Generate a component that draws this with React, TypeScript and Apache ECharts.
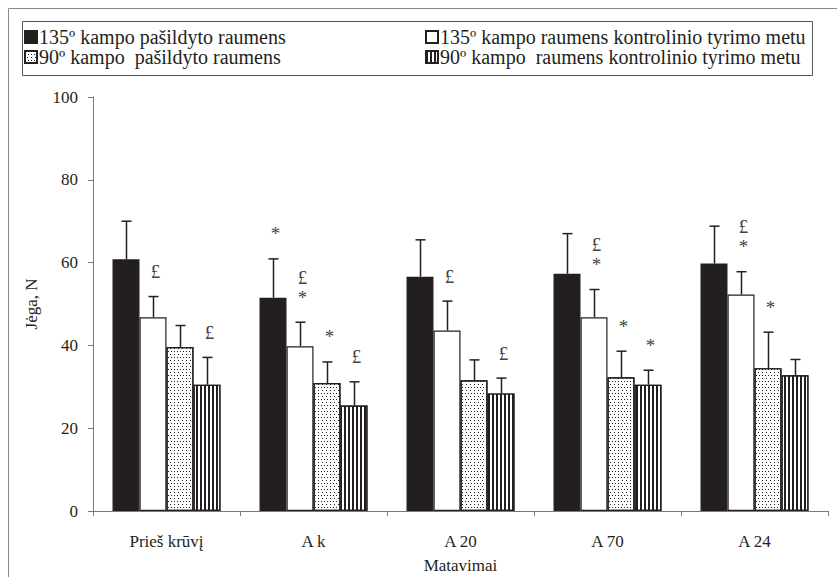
import React, { useEffect, useRef } from "react";
import * as echarts from "echarts";

const categories = ["Prieš krūvį", "A k", "A 20", "A 70", "A 24"];
const seriesNames = [
  "135º kampo pašildyto raumens",
  "135º kampo raumens kontrolinio tyrimo metu",
  "90º kampo  pašildyto raumens",
  "90º kampo  raumens kontrolinio tyrimo metu",
];
const warm135 = [60.8, 51.5, 56.6, 57.3, 59.8];
const ctrl135 = [46.8, 39.8, 43.6, 46.8, 52.3];
const warm90 = [39.6, 30.9, 31.6, 32.3, 34.5];
const ctrl90 = [30.5, 25.5, 28.4, 30.5, 32.8];
const warm135Sd = [9.2, 9.4, 8.9, 9.7, 9.0];
const ctrl135Sd = [5.0, 5.8, 7.1, 6.7, 5.5];
const warm90Sd = [5.2, 5.1, 4.9, 6.3, 8.7];
const ctrl90Sd = [6.6, 5.7, 3.7, 3.5, 3.8];
const warm135Marks = ["", "*", "", "", ""];
const ctrl135Marks = ["£", "£\n*", "£", "£\n*", "£\n*"];
const warm90Marks = ["", "*", "", "*", "*"];
const ctrl90Marks = ["£", "£", "£", "*", ""];
const yTicks = [0, 20, 40, 60, 80, 100];

const INK = "#231f20";
const FONT = "Liberation Serif, Times New Roman, serif";
const BAR_W = 27;

export default function App() {
  const ref = useRef<HTMLDivElement>(null);
  useEffect(() => {
    if (!ref.current) return;
    const chart = echarts.init(ref.current, undefined, { renderer: "svg" });
    const values = [warm135, ctrl135, warm90, ctrl90];
    const sds = [warm135Sd, ctrl135Sd, warm90Sd, ctrl90Sd];
    const marks = [warm135Marks, ctrl135Marks, warm90Marks, ctrl90Marks];
    const errData: number[][] = [];
    const errMarks: string[] = [];
    values.forEach((vals, si) => {
      vals.forEach((v, ci) => {
        errData.push([ci, si, v, v + sds[si][ci]]);
        errMarks.push(marks[si][ci]);
      });
    });
    const decals: any[] = [
      null,
      null,
      {
        symbol: "rect",
        symbolSize: 1,
        dashArrayX: [[1, 2], [0, 1.5, 1, 0.5]],
        dashArrayY: [1, 1.5],
        color: INK,
        backgroundColor: "#ffffff",
        rotation: 0,
      },
      {
        symbol: "rect",
        symbolSize: 1,
        dashArrayX: [2, 1.8],
        dashArrayY: [1, 0],
        color: INK,
        backgroundColor: "#ffffff",
        rotation: 0,
      },
    ];
    const fills = [INK, "#ffffff", "#ffffff", "#ffffff"];
    const barSeries = values.map((vals, si) => ({
      type: "bar",
      name: seriesNames[si],
      data: vals,
      barWidth: BAR_W,
      barGap: "0%",
      itemStyle: {
        color: fills[si],
        borderColor: INK,
        borderWidth: 1.2,
        decal: decals[si] || undefined,
      },
      z: 2,
    }));
    const legendText = {
      fontFamily: FONT,
      fontSize: 20,
      lineHeight: 20,
      color: INK,
      padding: [0, 0, 0, -3],
    };
    const option: any = {
      animation: false,
      textStyle: { fontFamily: FONT },
      graphic: [
        {
          type: "polyline",
          shape: { points: [[8.5, 577], [8.5, 8.5], [837, 8.5]] },
          style: { fill: "none", stroke: "#8a8a8a", lineWidth: 1 },
          silent: true,
        },
        {
          type: "rect",
          shape: { x: 22.5, y: 21.5, width: 790, height: 54 },
          style: { fill: "none", stroke: "#555", lineWidth: 1 },
          silent: true,
        },
      ],
      legend: [
        {
          data: [seriesNames[0], seriesNames[2]],
          orient: "vertical",
          left: 24,
          top: 27,
          padding: 0,
          itemWidth: 12,
          itemHeight: 12,
          itemGap: 0,
          icon: "rect",
          selectedMode: false,
          textStyle: legendText,
        },
        {
          data: [seriesNames[1], seriesNames[3]],
          orient: "vertical",
          left: 425,
          top: 27,
          padding: 0,
          itemWidth: 12,
          itemHeight: 12,
          itemGap: 0,
          icon: "rect",
          selectedMode: false,
          textStyle: legendText,
        },
      ],
      grid: {
        left: 93,
        right: 9,
        top: 97,
        bottom: 66,
        containLabel: false,
        outerBoundsMode: "none",
      },
      xAxis: {
        type: "category",
        data: categories,
        name: "Matavimai",
        nameLocation: "middle",
        nameGap: 46,
        nameTextStyle: { fontFamily: FONT, fontSize: 17, color: INK },
        axisLine: { lineStyle: { color: "#7a7a7a", width: 1 } },
        axisTick: { show: true, length: 5, lineStyle: { color: "#7a7a7a" } },
        axisLabel: { fontFamily: FONT, fontSize: 17, color: INK, margin: 22 },
      },
      yAxis: {
        type: "value",
        min: yTicks[0],
        max: yTicks[yTicks.length - 1],
        interval: 20,
        name: "Jėga, N",
        nameLocation: "middle",
        nameGap: 53,
        nameTextStyle: { fontFamily: FONT, fontSize: 17, color: INK },
        splitLine: { show: false },
        axisLine: { show: true, lineStyle: { color: "#7a7a7a", width: 1 } },
        axisTick: { show: true, length: 5, lineStyle: { color: "#7a7a7a" } },
        axisLabel: { fontFamily: FONT, fontSize: 17, color: INK, margin: 15 },
      },
      series: [
        ...barSeries,
        {
          type: "custom",
          name: "err",
          z: 5,
          encode: { x: 0, y: 3 },
          data: errData,
          renderItem: (params: any, api: any) => {
            const ci = api.value(0);
            const si = api.value(1);
            const v = api.value(2);
            const top = api.value(3);
            const b = api.coord([ci, v]);
            const t = api.coord([ci, top]);
            const x = Math.round(b[0] + (si - 1.5) * BAR_W) + 0.5;
            const mark = errMarks[params.dataIndex];
            const children: any[] = [
              {
                type: "line",
                shape: { x1: x, y1: b[1], x2: x, y2: t[1] },
                style: { stroke: INK, lineWidth: 1.5 },
              },
              {
                type: "line",
                shape: { x1: x - 5, y1: t[1], x2: x + 5, y2: t[1] },
                style: { stroke: INK, lineWidth: 1.5 },
              },
            ];
            if (mark) {
              children.push({
                type: "text",
                style: {
                  text: mark,
                  x: x + 2,
                  y: t[1] - 15,
                  align: "center",
                  verticalAlign: "bottom",
                  font: `19px ${FONT}`,
                  lineHeight: 20,
                  fill: "#444",
                },
              });
            }
            return { type: "group", children };
          },
        },
      ],
    };
    chart.setOption(option);
    return () => chart.dispose();
  }, []);
  return <div ref={ref} style={{ width: 837, height: 577, position: "absolute", left: 0, top: 0 }} />;
}
